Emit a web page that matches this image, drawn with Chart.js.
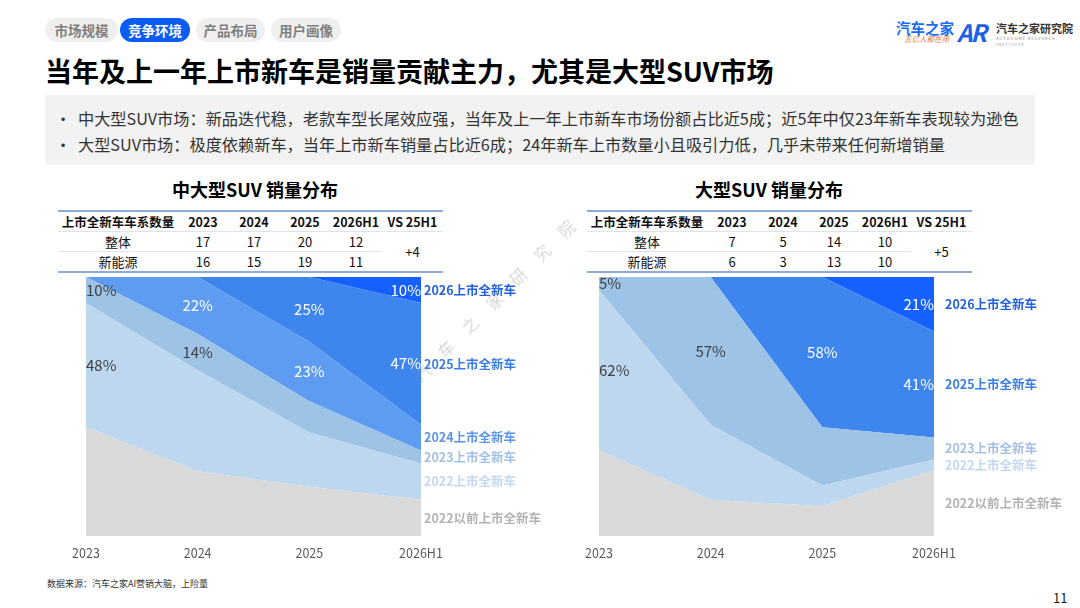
<!DOCTYPE html>
<html lang="zh-CN">
<head>
<meta charset="utf-8">
<title>SUV 销量分布</title>
<script src="https://cdn.jsdelivr.net/npm/chart.js@4.4.1/dist/chart.umd.min.js"></script>
<style>
  body { margin:0; width:1080px; height:608px; position:relative; background:#fff; overflow:hidden;
         font-family:"Noto Sans CJK SC","Noto Sans",sans-serif; color:#262626; }
  .tab { position:absolute; top:18px; height:24px; line-height:24px; border-radius:12px; background:#efefef;
         color:#7f7f7f; font-size:13.5px; font-weight:bold; text-align:center; }
  .tab.on { background:#0b5cf5; color:#fff; }
  .title { position:absolute; left:45px; top:51px; font-size:27px; font-weight:bold; color:#000; white-space:nowrap; }
  .box { position:absolute; left:45px; top:95px; width:990px; height:70px; background:#f2f2f2; }
  .bl { position:absolute; left:55px; font-size:16.2px; color:#333; white-space:nowrap; }
  .bl span { position:absolute; left:23px; }
  .ctitle { position:absolute; top:176px; font-size:18px; font-weight:bold; color:#000; white-space:nowrap; transform:translateX(-50%); }
  table.cnt { position:absolute; top:210px; border-collapse:collapse; table-layout:fixed; font-size:13px; color:#111; }
  table.cnt th, table.cnt td { padding:0; text-align:center; white-space:nowrap; }
  table.cnt thead tr { height:20px; border-top:2px solid #8faadc; border-bottom:1px solid #dde4f0; font-size:12.5px; }
  table.cnt tbody tr { height:17px; }
  table.cnt tbody tr.r1 td.v { border-bottom:1px solid #dde4f0; }
  table.cnt tbody tr.r2 { border-bottom:2px solid #8faadc; }
  .wrap { position:absolute; top:270px; width:520px; height:301px; }
  .foot { position:absolute; left:47px; top:577px; font-size:9px; color:#333; }
  .page { position:absolute; left:1053px; top:588px; font-size:13px; color:#222; }
  .wm { position:absolute; font-size:16px; color:rgba(150,150,150,0.4); letter-spacing:18px; white-space:nowrap;
        transform:translate(-50%,-50%) rotate(-45deg); }
</style>
</head>
<body>
<div class="tab" style="left:45px;width:73px">市场规模</div>
<div class="tab on" style="left:120px;width:70px">竞争环境</div>
<div class="tab" style="left:196px;width:69px">产品布局</div>
<div class="tab" style="left:271px;width:70px">用户画像</div>

<div style="position:absolute;left:896px;top:17px;font-size:14.5px;font-weight:bold;color:#1a6cf0">汽车之家</div>
<div style="position:absolute;left:904px;top:33px;font-size:7.5px;font-style:italic;color:#e8792a">五亿人都在用</div>
<div style="position:absolute;left:957px;top:14px;font-size:24px;font-weight:bold;font-style:italic;color:#1f5fe6;letter-spacing:-2px">AR</div>
<div style="position:absolute;left:996px;top:20px;font-size:11px;font-weight:bold;color:#333">汽车之家研究院</div>
<div style="position:absolute;left:996px;top:35px;font-size:4px;color:#888;letter-spacing:1px">AUTOHOME RESEARCH INSTITUTE</div>

<div class="title">当年及上一年上市新车是销量贡献主力，尤其是大型SUV市场</div>
<div class="box"></div>
<div class="bl" style="top:106px">•<span>中大型SUV市场：新品迭代稳，老款车型长尾效应强，当年及上一年上市新车市场份额占比近5成；近5年中仅23年新车表现较为逊色</span></div>
<div class="bl" style="top:132px">•<span>大型SUV市场：极度依赖新车，当年上市新车销量占比近6成；24年新车上市数量小且吸引力低，几乎未带来任何新增销量</span></div>

<div class="ctitle" style="left:255px">中大型SUV 销量分布</div>
<div class="ctitle" style="left:769px">大型SUV 销量分布</div>

<table class="cnt" id="tblMid" style="left:58px"></table>
<table class="cnt" id="tblBig" style="left:587px"></table>

<div class="wrap" style="left:40px"><canvas id="chartMid"></canvas></div>
<div class="wrap" style="left:560px"><canvas id="chartBig"></canvas></div>

<div class="wm" style="left:500px;top:294px">汽车之家研究院</div>

<div class="foot">数据来源：汽车之家AI营销大脑，上险量</div>
<div class="page">11</div>

<script>
// x轴
const years = ['2023', '2024', '2025', '2026H1'];

// 表格：上市全新车车系数量
const tableHead = ['上市全新车车系数量', '2023', '2024', '2025', '2026H1', 'VS 25H1'];
const rowNames = ['整体', '新能源'];
const midTotal = [17, 17, 20, 12];
const midNev = [16, 15, 19, 11];
const midVs = '+4';
const bigTotal = [7, 5, 14, 10];
const bigNev = [6, 3, 13, 10];
const bigVs = '+5';

// 系列名
const nOld = '2022以前上市全新车';
const n22 = '2022上市全新车';
const n23 = '2023上市全新车';
const n24 = '2024上市全新车';
const n25 = '2025上市全新车';
const n26 = '2026上市全新车';

// 中大型SUV 销量占比 (%)
const midOld = [42, 25, 19, 14];
const mid2022 = [48, 39, 21, 14];
const mid2023 = [10, 14, 12, 5];
const mid2024 = [0, 22, 23, 10];
const mid2025 = [0, 0, 25, 47];
const mid2026 = [0, 0, 0, 10];

// 大型SUV 销量占比 (%)，24年新车几乎为0，不画
const bigOld = [33, 14, 11.5, 25.5];
const big2022 = [62, 29, 8, 4];
const big2023 = [5, 57, 22.5, 8.5];
const big2025 = [0, 0, 58, 41];
const big2026 = [0, 0, 0, 21];

const fillColors = {
    [nOld]: '#d9d9d9', [n22]: '#bdd7ee', [n23]: '#9dc3e6',
    [n24]: '#5d9cf0', [n25]: '#3e85ed', [n26]: '#1461ff'
};
const sideColors = {
    [nOld]: '#b3b3b3', [n22]: '#c3d7ef', [n23]: '#a3bfe6',
    [n24]: '#5b95ea', [n25]: '#3b7de6', [n26]: '#2262e0'
};
const whiteText = [n24, n25, n26];
const FONT = '"Noto Sans CJK SC", "Noto Sans", sans-serif';

// 表格
function buildTable(id, total, nev, vs) {
    const t = document.getElementById(id);
    const widths = [120, 50, 52, 50, 52, 61];
    let html = '<colgroup>' + widths.map(w => `<col style="width:${w}px">`).join('') + '</colgroup>';
    html += '<thead><tr>' + tableHead.map(h => `<th>${h}</th>`).join('') + '</tr></thead><tbody>';
    html += `<tr class="r1"><td class="v">${rowNames[0]}</td>` + total.map(v => `<td class="v">${v}</td>`).join('') + `<td rowspan="2">${vs}</td></tr>`;
    html += `<tr class="r2"><td>${rowNames[1]}</td>` + nev.map(v => `<td>${v}</td>`).join('') + '</tr></tbody>';
    t.innerHTML = html;
    t.style.width = widths.reduce((a, b) => a + b, 0) + 'px';
}
buildTable('tblMid', midTotal, midNev, midVs);
buildTable('tblBig', bigTotal, bigNev, bigVs);

// 百分比标签 + 右侧系列名
const areaLabels = {
    id: 'areaLabels',
    afterDatasetsDraw(chart, args, opts) {
        const ctx = chart.ctx;
        const area = chart.chartArea;
        const ds = chart.data.datasets;
        const segMid = (d, i) => {
            const top = chart.getDatasetMeta(d).data[i].y;
            const bottom = d === 0 ? area.bottom : chart.getDatasetMeta(d - 1).data[i].y;
            return (top + bottom) / 2;
        };
        ctx.save();
        ctx.textBaseline = 'middle';
        ctx.font = '15px ' + FONT;
        opts.pairs.forEach(([d, i]) => {
            const pt = chart.getDatasetMeta(d).data[i];
            ctx.fillStyle = whiteText.includes(ds[d].label) ? '#ffffff' : '#404040';
            ctx.textAlign = i === 0 ? 'left' : (i === years.length - 1 ? 'right' : 'center');
            ctx.fillText(Math.round(ds[d].data[i]) + '%', pt.x, segMid(d, i));
        });
        ctx.font = 'bold 12.5px ' + FONT;
        ctx.textAlign = 'left';
        const last = years.length - 1;
        ds.forEach((s, d) => {
            ctx.fillStyle = sideColors[s.label];
            ctx.fillText(s.label, area.right + opts.gap, segMid(d, last));
        });
        ctx.restore();
    }
};

function drawArea(canvasId, names, series, pairs, pad, gap) {
    const datasets = series.map((data, i) => ({
        label: names[i],
        data: data,
        backgroundColor: fillColors[names[i]],
        borderColor: 'transparent',
        borderWidth: 0,
        pointRadius: 0,
        tension: 0,
        fill: i === 0 ? 'origin' : '-1'
    }));
    return new Chart(document.getElementById(canvasId), {
        type: 'line',
        data: { labels: years, datasets },
        options: {
            responsive: true,
            maintainAspectRatio: false,
            animation: false,
            layout: { padding: pad },
            plugins: {
                legend: { display: false },
                tooltip: { enabled: false },
                areaLabels: { pairs, gap }
            },
            scales: {
                x: {
                    offset: false,
                    grid: { display: false, drawTicks: false },
                    border: { display: false },
                    ticks: { color: '#595959', padding: 10, maxRotation: 0, font: { size: 12.5, family: FONT } }
                },
                y: { stacked: true, min: 0, max: 100, display: false }
            }
        },
        plugins: [areaLabels]
    });
}

// 中大型SUV
drawArea('chartMid',
    [nOld, n22, n23, n24, n25, n26],
    [midOld, mid2022, mid2023, mid2024, mid2025, mid2026],
    [[2, 0], [1, 0], [3, 1], [2, 1], [4, 2], [3, 2], [5, 3], [4, 3]],
    { left: 46, right: 139, top: 7, bottom: 0 }, 3);

// 大型SUV
drawArea('chartBig',
    [nOld, n22, n23, n25, n26],
    [bigOld, big2022, big2023, big2025, big2026],
    [[2, 0], [1, 0], [2, 1], [3, 2], [4, 3], [3, 3]],
    { left: 39, right: 146, top: 7, bottom: 0 }, 11);
</script>
</body>
</html>
